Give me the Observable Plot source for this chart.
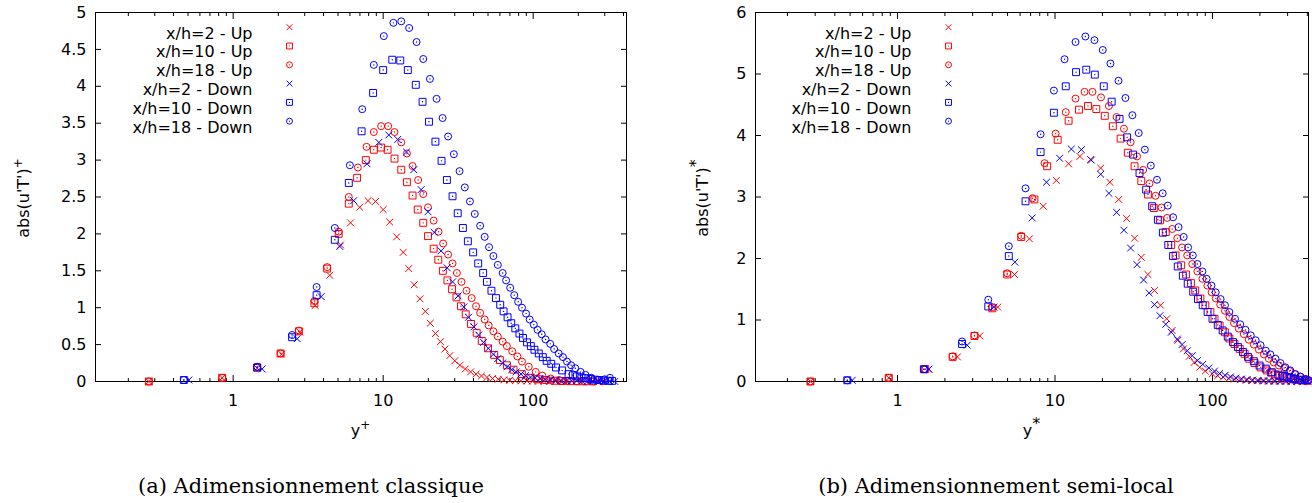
<!DOCTYPE html>
<html>
<head>
<meta charset="utf-8">
<script src="https://cdn.jsdelivr.net/npm/d3@7"></script>
<script src="https://cdn.jsdelivr.net/npm/@observablehq/plot@0.6"></script>
<style>
  html, body { margin: 0; padding: 0; background: #fff; overflow: hidden; }
  #wrap { position: relative; width: 1312px; height: 503px; background: #fff; }
  .panel { position: absolute; top: 0; }
  .cap { position: absolute; top: 472px; font-family: "DejaVu Serif", "Liberation Serif", serif; font-size: 21px; color: #000; text-align: center; white-space: nowrap; line-height: 28px; }
</style>
</head>
<body>
<div id="wrap"></div>
<script>
// ---------- series names / styles ----------
const names  = ["x/h=2 - Up", "x/h=10 - Up", "x/h=18 - Up", "x/h=2 - Down", "x/h=10 - Down", "x/h=18 - Down"];
const colors = ["#ff0000", "#ff0000", "#ff0000", "#0000ff", "#0000ff", "#0000ff"];
const shapes = ["times", "square", "circle", "times", "square", "circle"];

// ---------- (a) Adimensionnement classique : y+ , abs(u'T')+ ----------
const cl_up2_x  = [0.274, 0.845, 1.445, 2.1, 2.78, 3.52, 4.4, 5.2, 6.06, 6.98, 7.93, 8.9, 10.0, 11.06, 12.3, 13.6, 14.8, 16.1, 17.6, 19.1, 20.6, 22.3, 24.1, 25.8, 27.8, 30.0, 32.5, 35.3, 38.3, 41.6, 45.2, 49.2, 53.6, 58.5, 63.8, 69.6, 76, 83, 91, 99, 108, 118, 129, 141, 154, 168];
const cl_up2_y  = [0.0, 0.05, 0.18, 0.37, 0.67, 1.03, 1.44, 1.85, 2.15, 2.36, 2.45, 2.44, 2.33, 2.16, 1.96, 1.75, 1.53, 1.31, 1.12, 0.95, 0.79, 0.65, 0.54, 0.44, 0.35, 0.28, 0.22, 0.17, 0.13, 0.10, 0.075, 0.055, 0.04, 0.03, 0.022, 0.016, 0.012, 0.009, 0.007, 0.005, 0.004, 0.003, 0.002, 0.002, 0.001, 0.001];

const cl_up10_x = [0.274, 0.845, 1.445, 2.07, 2.74, 3.48, 4.23, 5.05, 5.9, 6.7, 7.66, 8.66, 9.69, 10.7, 11.9, 13.2, 14.4, 15.7, 17.0, 18.5, 19.9, 21.7, 23.3, 25.0, 26.8, 28.8, 30.8, 33.0, 35.5, 38.5, 42, 45.4, 50, 55, 60, 66.8, 73.9, 84, 96, 108, 122, 138, 156, 176, 198, 222, 250];
const cl_up10_y = [0.0, 0.05, 0.19, 0.38, 0.68, 1.06, 1.53, 2.0, 2.41, 2.76, 3.0, 3.14, 3.17, 3.14, 3.02, 2.87, 2.70, 2.52, 2.33, 2.15, 1.97, 1.80, 1.65, 1.50, 1.37, 1.25, 1.14, 1.02, 0.91, 0.78, 0.66, 0.55, 0.45, 0.36, 0.29, 0.22, 0.16, 0.10, 0.05, 0.03, 0.02, 0.01, 0.006, 0.004, 0.002, 0.001, 0.001];

const cl_up18_x = [0.274, 0.845, 1.445, 2.07, 2.74, 3.48, 4.23, 5.05, 5.9, 6.78, 7.75, 8.66, 9.69, 10.8, 11.9, 13.2, 14.4, 15.7, 17.1, 18.5, 19.9, 21.7, 23.4, 25.1, 27.1, 29.0, 31.0, 33.3, 35.9, 38.9, 41.6, 44.3, 47.5, 50.5, 54.3, 58.1, 62.6, 66.8, 72.5, 78.5, 84.2, 93.5, 104, 115, 131, 149, 170, 195, 222, 253, 288];
const cl_up18_y = [0.0, 0.05, 0.19, 0.38, 0.69, 1.09, 1.55, 2.03, 2.50, 2.90, 3.18, 3.38, 3.46, 3.46, 3.38, 3.24, 3.09, 2.92, 2.73, 2.54, 2.36, 2.18, 2.03, 1.87, 1.72, 1.60, 1.47, 1.35, 1.23, 1.13, 1.02, 0.93, 0.84, 0.76, 0.68, 0.61, 0.54, 0.48, 0.41, 0.34, 0.27, 0.20, 0.13, 0.08, 0.04, 0.02, 0.01, 0.005, 0.003, 0.002, 0.001];

const cl_dn2_x  = [0.506, 1.56, 2.67, 3.86, 5.14, 6.36, 7.8, 9.35, 10.9, 12.5, 14.3, 16.0, 17.9, 19.9, 21.9, 24.3, 26.7, 29.0, 31.6, 34.5, 37.1, 40.3, 43.3, 46.7, 50.3, 54.3, 58.1, 62.6, 67, 72, 77, 83, 89, 96, 103, 111, 120, 130, 141, 153, 166, 180, 195, 212, 230, 250, 272, 296, 322, 350];
const cl_dn2_y  = [0.02, 0.17, 0.58, 1.15, 1.83, 2.45, 2.95, 3.24, 3.34, 3.28, 3.11, 2.87, 2.60, 2.30, 2.02, 1.77, 1.54, 1.35, 1.16, 1.01, 0.87, 0.74, 0.63, 0.53, 0.45, 0.37, 0.31, 0.25, 0.20, 0.16, 0.13, 0.10, 0.08, 0.06, 0.05, 0.04, 0.03, 0.025, 0.02, 0.015, 0.012, 0.01, 0.008, 0.006, 0.005, 0.004, 0.003, 0.002, 0.001, 0.001];

const cl_dn10_x = [0.469, 1.445, 2.47, 3.6, 4.76, 5.9, 7.18, 8.57, 10.0, 11.5, 13.0, 14.6, 16.5, 18.3, 20.2, 22.3, 24.5, 26.6, 29.0, 31.4, 34.0, 36.7, 39.8, 43.0, 46.4, 49.2, 52.7, 56.5, 60.3, 63.5, 67.5, 71.4, 76, 81, 85.5, 91, 96.5, 102, 109, 116, 123, 132, 142, 156, 172, 184, 196, 210, 225, 241, 258, 276, 295, 315, 336];
const cl_dn10_y = [0.02, 0.19, 0.60, 1.17, 1.92, 2.69, 3.39, 3.91, 4.22, 4.36, 4.35, 4.22, 4.02, 3.79, 3.52, 3.25, 2.99, 2.73, 2.51, 2.28, 2.08, 1.90, 1.75, 1.60, 1.47, 1.35, 1.23, 1.13, 1.04, 0.95, 0.87, 0.79, 0.72, 0.65, 0.59, 0.53, 0.48, 0.43, 0.38, 0.33, 0.28, 0.24, 0.19, 0.15, 0.10, 0.085, 0.07, 0.055, 0.045, 0.035, 0.025, 0.02, 0.015, 0.01, 0.008];

const cl_dn18_x = [0.469, 1.445, 2.47, 3.6, 4.76, 6.0, 7.25, 8.66, 10.1, 11.7, 13.2, 14.9, 16.7, 18.5, 20.5, 22.7, 24.9, 27.1, 29.6, 32.3, 35.0, 37.9, 40.8, 44.3, 47.5, 50.8, 54.3, 58.1, 62.6, 66, 70.3, 74.8, 79.4, 84.2, 89.7, 94.8, 101, 107, 114, 121, 130, 138, 148, 158, 168, 179, 191, 207, 223, 244, 270, 300, 325];
const cl_dn18_y = [0.02, 0.20, 0.63, 1.28, 2.08, 2.93, 3.69, 4.29, 4.68, 4.86, 4.88, 4.79, 4.60, 4.37, 4.10, 3.83, 3.57, 3.32, 3.08, 2.85, 2.63, 2.44, 2.27, 2.11, 1.96, 1.82, 1.70, 1.58, 1.47, 1.37, 1.27, 1.17, 1.08, 1.00, 0.92, 0.84, 0.77, 0.70, 0.64, 0.57, 0.51, 0.44, 0.38, 0.33, 0.27, 0.22, 0.18, 0.13, 0.09, 0.05, 0.02, 0.03, 0.05];

// ---------- (b) Adimensionnement semi-local : y* , abs(u'T')* ----------
const sl_up2_x  = [0.28, 0.88, 1.58, 2.4, 3.33, 4.33, 5.53, 6.88, 8.41, 10.2, 12.2, 14.4, 16.8, 19.5, 22.3, 25.4, 28.5, 32.0, 35.3, 38.9, 42.8, 46.8, 51.2, 55.5, 60.2, 65.4, 71.2, 76.5, 83, 90, 99.7, 108, 117, 127, 138, 150, 163, 177, 192, 208, 226, 245, 266, 289, 314, 341, 370];
const sl_up2_y  = [0.0, 0.06, 0.2, 0.40, 0.74, 1.21, 1.74, 2.32, 2.85, 3.27, 3.54, 3.66, 3.61, 3.47, 3.24, 2.96, 2.65, 2.33, 2.02, 1.74, 1.48, 1.24, 1.02, 0.83, 0.67, 0.53, 0.41, 0.31, 0.23, 0.17, 0.125, 0.095, 0.07, 0.05, 0.04, 0.03, 0.022, 0.016, 0.012, 0.009, 0.007, 0.005, 0.004, 0.003, 0.002, 0.001, 0.001];

const sl_up10_x = [0.28, 0.88, 1.5, 2.24, 3.08, 4.0, 4.97, 6.1, 7.4, 8.92, 10.4, 12.2, 14.2, 16.2, 18.3, 20.7, 23.3, 26.1, 29.0, 32.0, 35.3, 38.9, 42.4, 46.4, 50.5, 54.7, 58.3, 63.3, 68, 73, 77.7, 83.8, 90.1, 97, 103, 111, 120, 128, 138, 149, 160, 171, 185, 202, 221, 235, 250, 267, 285, 305, 326, 349, 374, 400];
const sl_up10_y = [0.0, 0.06, 0.2, 0.40, 0.74, 1.19, 1.74, 2.35, 2.96, 3.50, 3.93, 4.24, 4.42, 4.48, 4.43, 4.32, 4.15, 3.95, 3.72, 3.50, 3.26, 3.04, 2.82, 2.62, 2.43, 2.22, 2.05, 1.89, 1.74, 1.60, 1.48, 1.35, 1.24, 1.13, 1.02, 0.91, 0.80, 0.70, 0.61, 0.53, 0.45, 0.37, 0.30, 0.23, 0.18, 0.145, 0.115, 0.09, 0.068, 0.05, 0.036, 0.026, 0.018, 0.012];

const sl_up18_x = [0.28, 0.88, 1.5, 2.24, 3.08, 4.0, 4.97, 6.1, 7.2, 8.58, 10.1, 11.7, 13.5, 15.4, 17.3, 19.6, 22.0, 24.6, 27.4, 30.2, 33.2, 36.3, 39.8, 43.5, 47.5, 51.6, 55.5, 59.8, 64.1, 69.1, 74.4, 80.2, 86.3, 92.8, 98.8, 105, 112, 120, 128, 137, 147, 158, 170, 183, 197, 212, 228, 245, 264, 285, 308, 333, 360, 390, 410];
const sl_up18_y = [0.0, 0.06, 0.2, 0.41, 0.75, 1.21, 1.76, 2.37, 2.98, 3.55, 4.03, 4.38, 4.60, 4.71, 4.71, 4.62, 4.48, 4.30, 4.11, 3.89, 3.66, 3.44, 3.22, 3.02, 2.83, 2.66, 2.48, 2.33, 2.18, 2.05, 1.91, 1.79, 1.67, 1.56, 1.45, 1.35, 1.25, 1.15, 1.05, 0.95, 0.86, 0.77, 0.68, 0.60, 0.52, 0.44, 0.37, 0.31, 0.26, 0.22, 0.17, 0.12, 0.08, 0.04, 0.02];

const sl_dn2_x  = [0.516, 1.58, 2.77, 4.09, 5.56, 7.16, 8.83, 10.7, 12.7, 14.7, 17.0, 19.5, 22.0, 24.6, 27.4, 30.2, 33.2, 36.5, 39.6, 42.8, 46.4, 50.5, 54.7, 59.8, 64.1, 69.1, 74.4, 80.2, 86.7, 94.8, 103, 111, 120, 130, 141, 153, 166, 180, 195, 212, 230, 250, 271, 294, 319, 346, 375, 405];
const sl_dn2_y  = [0.02, 0.2, 0.59, 1.21, 1.94, 2.66, 3.24, 3.63, 3.78, 3.77, 3.60, 3.37, 3.06, 2.75, 2.46, 2.17, 1.90, 1.65, 1.44, 1.25, 1.07, 0.93, 0.80, 0.69, 0.60, 0.50, 0.42, 0.34, 0.28, 0.22, 0.17, 0.13, 0.10, 0.075, 0.055, 0.04, 0.03, 0.022, 0.016, 0.012, 0.009, 0.007, 0.005, 0.004, 0.003, 0.002, 0.001, 0.001];

const sl_dn10_x = [0.48, 1.47, 2.57, 3.77, 5.09, 6.5, 8.1, 9.84, 11.7, 13.6, 15.8, 17.9, 20.4, 22.9, 25.7, 28.7, 31.3, 34.4, 37.9, 41.4, 45.0, 48.4, 52.4, 56.2, 60.2, 64.8, 69.6, 75.4, 80.9, 86.7, 93.1, 100, 108, 116, 125, 135, 145, 156, 168, 183, 199, 218, 238, 262, 280, 298, 316, 335, 360, 388];
const sl_dn10_y = [0.02, 0.2, 0.61, 1.22, 2.04, 2.93, 3.73, 4.37, 4.80, 5.03, 5.07, 4.99, 4.80, 4.55, 4.27, 3.97, 3.69, 3.39, 3.12, 2.85, 2.63, 2.42, 2.22, 2.04, 1.87, 1.72, 1.59, 1.46, 1.34, 1.24, 1.13, 1.02, 0.92, 0.83, 0.73, 0.64, 0.56, 0.48, 0.40, 0.33, 0.26, 0.21, 0.15, 0.11, 0.09, 0.07, 0.055, 0.04, 0.03, 0.02];

const sl_dn18_x = [0.48, 1.47, 2.57, 3.77, 5.09, 6.5, 8.1, 9.84, 11.5, 13.5, 15.6, 17.8, 20.1, 22.5, 25.3, 28.0, 31.0, 34.0, 37.2, 40.6, 44.4, 48.3, 52.0, 56.2, 60.9, 65.6, 70.0, 75.0, 80.2, 86.3, 91.8, 98.5, 104.8, 112.6, 120, 128, 139, 150, 162, 175, 188, 202, 218, 233, 251, 270, 290, 312, 336, 362, 390, 406];
const sl_dn18_y = [0.02, 0.2, 0.65, 1.33, 2.20, 3.14, 4.02, 4.73, 5.24, 5.52, 5.61, 5.55, 5.39, 5.17, 4.89, 4.61, 4.33, 4.04, 3.77, 3.51, 3.28, 3.06, 2.86, 2.67, 2.51, 2.35, 2.18, 2.05, 1.91, 1.79, 1.67, 1.56, 1.45, 1.34, 1.24, 1.13, 1.02, 0.93, 0.84, 0.75, 0.67, 0.59, 0.50, 0.44, 0.37, 0.30, 0.23, 0.18, 0.12, 0.08, 0.04, 0.02];

// ---------- tick values ----------
const xMajorTicks = [1, 10, 100];
const xMinorTicks = [0.2, 0.3, 0.4, 0.5, 0.6, 0.7, 0.8, 0.9, 2, 3, 4, 5, 6, 7, 8, 9, 20, 30, 40, 50, 60, 70, 80, 90, 200, 300, 400];
const yTicksA = [0, 0.5, 1, 1.5, 2, 2.5, 3, 3.5, 4, 4.5, 5];
const yTicksB = [0, 1, 2, 3, 4, 5, 6];

const captionA = "(a) Adimensionnement classique";
const captionB = "(b) Adimensionnement semi-local";

const SANS = "'DejaVu Sans', Verdana, sans-serif";

// ---------- panel builder ----------
function makePanel(cfg) {
  const series = names.map((name, i) => ({
    name, color: colors[i], shape: shapes[i],
    pts: cfg.xs[i].map((x, j) => ({x, y: cfg.ys[i][j]}))
  }));
  const marks = [
    Plot.frame({stroke: "#000", strokeWidth: 1}),
    // inward ticks on all four sides
    Plot.axisX({ticks: xMajorTicks, anchor: "bottom", tickSize: -6, tickFormat: () => "", label: null}),
    Plot.axisX({ticks: xMajorTicks, anchor: "top", tickSize: -6, tickFormat: () => "", label: null}),
    Plot.axisX({ticks: xMinorTicks, anchor: "bottom", tickSize: -3, tickFormat: () => "", label: null}),
    Plot.axisX({ticks: xMinorTicks, anchor: "top", tickSize: -3, tickFormat: () => "", label: null}),
    Plot.axisY({ticks: cfg.yTicks, anchor: "left", tickSize: -6, tickFormat: () => "", label: null}),
    Plot.axisY({ticks: cfg.yTicks, anchor: "right", tickSize: -6, tickFormat: () => "", label: null}),
    // tick labels
    Plot.axisX({ticks: xMajorTicks, anchor: "bottom", tickSize: 0, tickPadding: 13, tickFormat: d => String(d), label: null}),
    Plot.axisY({ticks: cfg.yTicks, anchor: "left", tickSize: 0, tickPadding: 9, tickFormat: d => String(d), label: null})
  ];
  const sizes = {times: 3.2, square: 3.9, circle: 3.5};
  series.forEach((s) => {
    marks.push(Plot.dot(s.pts, {x: "x", y: "y", symbol: s.shape, r: sizes[s.shape], stroke: s.color, strokeWidth: 1, fill: "none"}));
    if (s.shape !== "times") {
      marks.push(Plot.dot(s.pts, {x: "x", y: "y", r: 0.7, fill: s.color, stroke: null}));
    }
  });
  // legend (inside the frame, top-left)
  series.forEach((s, i) => {
    const dy = 14.7 + 18.8 * i;
    marks.push(Plot.text([s.name], {text: d => d, frameAnchor: "top-left", dx: cfg.legTextDx, dy, textAnchor: "end", fontSize: 16, fill: "#000"}));
    marks.push(Plot.dot([s.name], {frameAnchor: "top-left", dx: cfg.legSymDx, dy, symbol: s.shape, r: sizes[s.shape] * 0.85, stroke: s.color, strokeWidth: 1, fill: "none"}));
    if (s.shape !== "times") {
      marks.push(Plot.dot([s.name], {frameAnchor: "top-left", dx: cfg.legSymDx, dy, r: 0.6, fill: s.color, stroke: null}));
    }
  });
  const svg = Plot.plot({
    width: cfg.width, height: 440,
    marginTop: 12, marginBottom: 59, marginLeft: cfg.marginLeft, marginRight: cfg.marginRight,
    x: {type: "log", domain: cfg.xDomain},
    y: {domain: cfg.yDomain},
    style: {fontFamily: SANS, fontSize: "16px", color: "#000", background: "#fff"},
    marks
  });
  const sel = d3.select(svg);
  // y label (rotated) with superscript
  const yl = sel.append("text")
    .attr("transform", `translate(${cfg.yLabelX},198) rotate(-90)`)
    .attr("text-anchor", "middle")
    .attr("fill", "#000")
    .style("font-family", SANS)
    .style("font-size", "16px");
  yl.append("tspan").text("abs(u'T')");
  yl.append("tspan").attr("dy", -7).style("font-size", cfg.supSize + "px").text(cfg.sup);
  // x label with superscript
  const xl = sel.append("text")
    .attr("x", (cfg.marginLeft + cfg.width - cfg.marginRight) / 2)
    .attr("y", 436)
    .attr("text-anchor", "middle")
    .attr("fill", "#000")
    .style("font-family", SANS)
    .style("font-size", "16px");
  xl.append("tspan").text("y");
  xl.append("tspan").attr("dy", -7).style("font-size", cfg.supSize + "px").text(cfg.sup);
  return svg;
}

const wrap = document.getElementById("wrap");

const svgA = makePanel({
  xs: [cl_up2_x, cl_up10_x, cl_up18_x, cl_dn2_x, cl_dn10_x, cl_dn18_x],
  ys: [cl_up2_y, cl_up10_y, cl_up18_y, cl_dn2_y, cl_dn10_y, cl_dn18_y],
  xDomain: [0.1208, 419], yDomain: [0, 5], yTicks: yTicksA,
  width: 656, marginLeft: 95, marginRight: 30,
  legTextDx: 157, legSymDx: 194,
  yLabelX: 29, sup: "+", supSize: 12
});
const pA = document.createElement("div"); pA.className = "panel"; pA.style.left = "0px"; pA.appendChild(svgA); wrap.appendChild(pA);

const svgB = makePanel({
  xs: [sl_up2_x, sl_up10_x, sl_up18_x, sl_dn2_x, sl_dn10_x, sl_dn18_x],
  ys: [sl_up2_y, sl_up10_y, sl_up18_y, sl_dn2_y, sl_dn10_y, sl_dn18_y],
  xDomain: [0.1254, 407], yDomain: [0, 6], yTicks: yTicksB,
  width: 656, marginLeft: 99, marginRight: 4,
  legTextDx: 156, legSymDx: 193,
  yLabelX: 52, sup: "*", supSize: 16
});
const pB = document.createElement("div"); pB.className = "panel"; pB.style.left = "656px"; pB.appendChild(svgB); wrap.appendChild(pB);

const cA = document.createElement("div"); cA.className = "cap"; cA.style.left = "0px"; cA.style.width = "622px"; cA.textContent = captionA; wrap.appendChild(cA);
const cB = document.createElement("div"); cB.className = "cap"; cB.style.left = "680px"; cB.style.width = "632px"; cB.textContent = captionB; wrap.appendChild(cB);
</script>
</body>
</html>
